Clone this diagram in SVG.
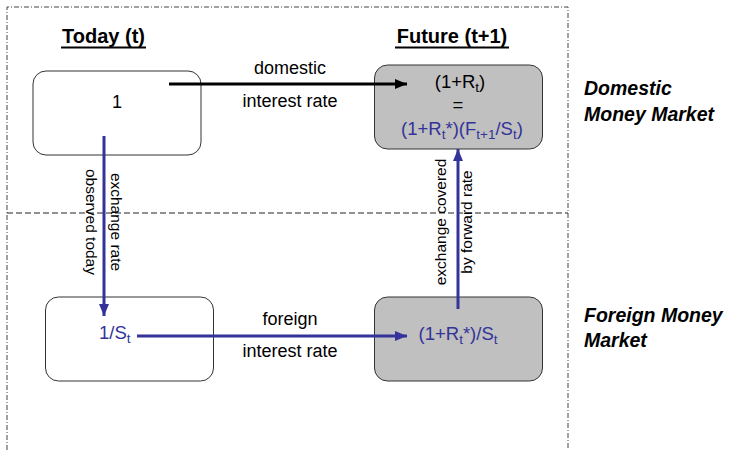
<svg xmlns="http://www.w3.org/2000/svg" width="733" height="450" viewBox="0 0 733 450">
  <style>
    text { font-family: "Liberation Sans", Arial, sans-serif; fill: #000; }
    .body { font-size: 18px; }
    .formula { font-size: 18.5px; }
    .sub { font-size: 13.5px; }
    .blue { fill: #333399; }
    .vlabel { font-size: 15.5px; text-anchor: middle; }
    .mid { text-anchor: middle; }
    .title { font-size: 20px; font-weight: bold; text-anchor: middle; }
    .underline { stroke: #000; stroke-width: 2; }
    .market { font-size: 19.5px; font-weight: bold; font-style: italic; }
    .box { stroke: #333; stroke-width: 1; }
    .plain { fill: #fff; }
    .shade { fill: #c0c0c0; }
    .frame { fill: none; stroke: #444; stroke-width: 1; stroke-dasharray: 5 2 1 2; }
    .divider { fill: none; stroke: #222; stroke-width: 1; stroke-dasharray: 6 3; }
    .conn { fill: none; stroke-width: 3; }
  </style>
  <defs>
    <marker id="headBlack" viewBox="0 0 12 10" refX="12" refY="5" markerUnits="userSpaceOnUse" markerWidth="12" markerHeight="10" orient="auto">
      <path d="M0,0 L12,5 L0,10 Z" fill="#000"/>
    </marker>
    <marker id="headBlue" viewBox="0 0 12 10" refX="12" refY="5" markerUnits="userSpaceOnUse" markerWidth="12" markerHeight="10" orient="auto">
      <path d="M0,0 L12,5 L0,10 Z" fill="#333399"/>
    </marker>
  </defs>

  <!-- frame and market divider -->
  <g id="frame">
    <path class="frame" d="M7,450 V7 H568 V450"/>
    <line class="divider" x1="7" y1="213" x2="568" y2="213"/>
  </g>

  <!-- column headings -->
  <g id="headings">
    <text class="title" x="103.5" y="43">Today (t)</text>
    <line class="underline" x1="61" y1="47.5" x2="146" y2="47.5"/>
    <text class="title" x="452" y="43">Future (t+1)</text>
    <line class="underline" x1="395" y1="47.5" x2="509" y2="47.5"/>
  </g>

  <!-- market labels -->
  <g id="market-labels">
    <text class="market" x="584" y="95">Domestic</text>
    <text class="market" x="584" y="121">Money Market</text>
    <text class="market" x="584" y="322">Foreign Money</text>
    <text class="market" x="584" y="347">Market</text>
  </g>

  <!-- nodes -->
  <g id="today-domestic">
    <rect class="box plain" x="33" y="71" width="168" height="84" rx="13"/>
    <text class="body mid" x="117" y="108">1</text>
  </g>
  <g id="future-domestic">
    <rect class="box shade" x="374.5" y="65" width="168" height="84" rx="13"/>
    <text class="formula mid" x="460" y="88">(1+R<tspan class="sub" dy="4">t</tspan><tspan dy="-4">)</tspan></text>
    <text class="formula mid" x="458" y="111">=</text>
    <text class="formula mid blue" x="462" y="135">(1+R<tspan class="sub" dy="4">t</tspan><tspan dy="-4">*)(F</tspan><tspan class="sub" dy="4">t+1</tspan><tspan dy="-4">/S</tspan><tspan class="sub" dy="4">t</tspan><tspan dy="-4">)</tspan></text>
  </g>
  <g id="today-foreign">
    <rect class="box plain" x="45.5" y="297" width="168" height="84" rx="13"/>
    <text class="formula blue" x="99" y="339">1/S<tspan class="sub" dy="4">t</tspan></text>
  </g>
  <g id="future-foreign">
    <rect class="box shade" x="374.5" y="297" width="168" height="84" rx="13"/>
    <text class="formula mid blue" x="458" y="340">(1+R<tspan class="sub" dy="4">t</tspan><tspan dy="-4">*)/S</tspan><tspan class="sub" dy="4">t</tspan></text>
  </g>

  <!-- connectors -->
  <g id="connectors">
    <line class="conn" stroke="#000" x1="169" y1="84" x2="407" y2="84" marker-end="url(#headBlack)"/>
    <line class="conn" stroke="#333399" x1="104" y1="136" x2="104" y2="316" marker-end="url(#headBlue)"/>
    <line class="conn" stroke="#333399" x1="137" y1="336" x2="407" y2="336" marker-end="url(#headBlue)"/>
    <line class="conn" stroke="#333399" x1="458" y1="309" x2="458" y2="149" marker-end="url(#headBlue)"/>
  </g>

  <!-- connector labels -->
  <g id="connector-labels">
    <text class="body mid" x="290" y="74">domestic</text>
    <text class="body mid" x="290" y="106.5">interest rate</text>
    <text class="body mid" x="290" y="325">foreign</text>
    <text class="body mid" x="290" y="357">interest rate</text>
    <text class="vlabel" transform="translate(86,222) rotate(90)">observed today</text>
    <text class="vlabel" transform="translate(111,222) rotate(90)">exchange rate</text>
    <text class="vlabel" transform="translate(446,222) rotate(-90)">exchange covered</text>
    <text class="vlabel" transform="translate(472,222) rotate(-90)">by forward rate</text>
  </g>
</svg>
